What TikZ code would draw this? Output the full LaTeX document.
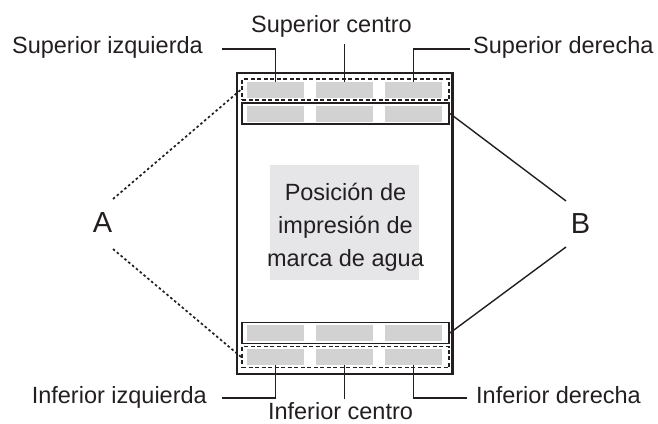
\documentclass[tikz,border=0pt]{standalone}
\usepackage{fontspec}
\setmainfont{Liberation Sans}
\usetikzlibrary{positioning,calc}
\definecolor{cellgray}{HTML}{D2D2D2}
\definecolor{wmgray}{HTML}{E6E6E8}
\definecolor{inkblack}{HTML}{231F20}

\begin{document}
\begin{tikzpicture}[
  x=1pt, y=-1pt,
  font=\fontsize{23.5}{33}\selectfont,
  sheet/.style={rectangle, draw=inkblack, line width=2.2pt, inner sep=0pt,
                minimum width=215.5pt, minimum height=301pt},
  rowbox/.style={rectangle, draw=inkblack, line width=1.7pt, inner sep=0pt,
                 minimum width=207pt, minimum height=21pt},
  rowdash/.style={rowbox, dash pattern=on 4pt off 2.5pt},
  cell/.style={rectangle, fill=cellgray, inner sep=0pt,
               minimum width=57pt, minimum height=16pt},
  wmbox/.style={rectangle, fill=wmgray, inner sep=0pt,
                minimum width=149pt, minimum height=115pt},
  wmtext/.style={inner sep=0pt, align=center, text=inkblack},
  lbl/.style={inner sep=0pt, text=inkblack},
  letterlbl/.style={lbl, font=\fontsize{29}{33}\selectfont},
  lead/.style={draw=inkblack, line width=1.4pt},
  dotlead/.style={draw=inkblack, line width=1.7pt, dash pattern=on 2.5pt off 2.5pt}
]
\useasboundingbox (0,0) rectangle (658,423);

% ---------- Sheet and watermark area ----------
\node[sheet] (sheet) at (344.75,223.5) {};
\node[wmbox] (wm) at (344.5,222.5) {};
\node[wmtext] (wmlbl) at ($(wm.center)+(1,5)$)
  {Posición de\\impresión de\\marca de agua};

% ---------- Header / footer rows ----------
\foreach \r/\y in {t/90, u/114, v/333, w/357}
  \foreach \c/\x in {l/275.5, c/344.5, r/413.5}
    \node[cell] (cell-\r\c) at (\x,\y) {};
\node[rowdash] (topdash) at (345.5,89.5) {};
\node[rowbox] (topb) at (345.5,113.5) {};
\node[rowbox] (botb) at (345.5,333) {};
\node[rowdash] (botdash) at (345.5,357) {};

% ---------- Position labels ----------
\node[lbl, anchor=base east] (supizq) at (203,53) {Superior izquierda};
\node[lbl, anchor=base] (supcen) at (331.5,32) {Superior centro};
\node[lbl, anchor=base west] (supder) at (473,53) {Superior derecha};
\node[lbl, anchor=base east] (infizq) at (207,403) {Inferior izquierda};
\node[lbl, anchor=base] (infcen) at (340.5,419) {Inferior centro};
\node[lbl, anchor=base west] (infder) at (476,403) {Inferior derecha};

% leaders to the cells
\coordinate (supizq-end) at ($(supizq.base east)+(19,-4)$);
\draw[lead] (supizq-end) -| (cell-tl.north);
\coordinate (supcen-end) at ($(cell-tc.north)+(0,-38)$);
\draw[lead] (supcen-end) -- (cell-tc.north);
\coordinate (supder-end) at ($(supder.base west)+(-3,-4)$);
\draw[lead] (supder-end) -| (cell-tr.north);
\coordinate (infizq-end) at ($(infizq.base east)+(15,-5)$);
\draw[lead] (infizq-end) -| (cell-wl.south);
\coordinate (infcen-end) at ($(cell-wc.south)+(0,34)$);
\draw[lead] (infcen-end) -- (cell-wc.south);
\coordinate (infder-end) at ($(infder.base west)+(-9,-5)$);
\draw[lead] (infder-end) -| (cell-wr.south);

% ---------- A and B callouts ----------
\node[letterlbl, anchor=base] (A) at (102.5,232) {A};
\node[letterlbl, anchor=base] (B) at (580.5,233) {B};
\coordinate (A-up) at ($(A.base)+(10.5,-33)$);
\coordinate (A-dn) at ($(A.base)+(10.5,17)$);
\draw[dotlead] (A-up) -- (topdash.west);
\draw[dotlead] (A-dn) -- (botdash.west);
\coordinate (B-up) at ($(B.base)+(-14.5,-32)$);
\coordinate (B-dn) at ($(B.base)+(-14.5,14)$);
\draw[lead] (topb.east) -- (B-up);
\draw[lead] (botb.east) -- (B-dn);

\end{tikzpicture}
\end{document}
